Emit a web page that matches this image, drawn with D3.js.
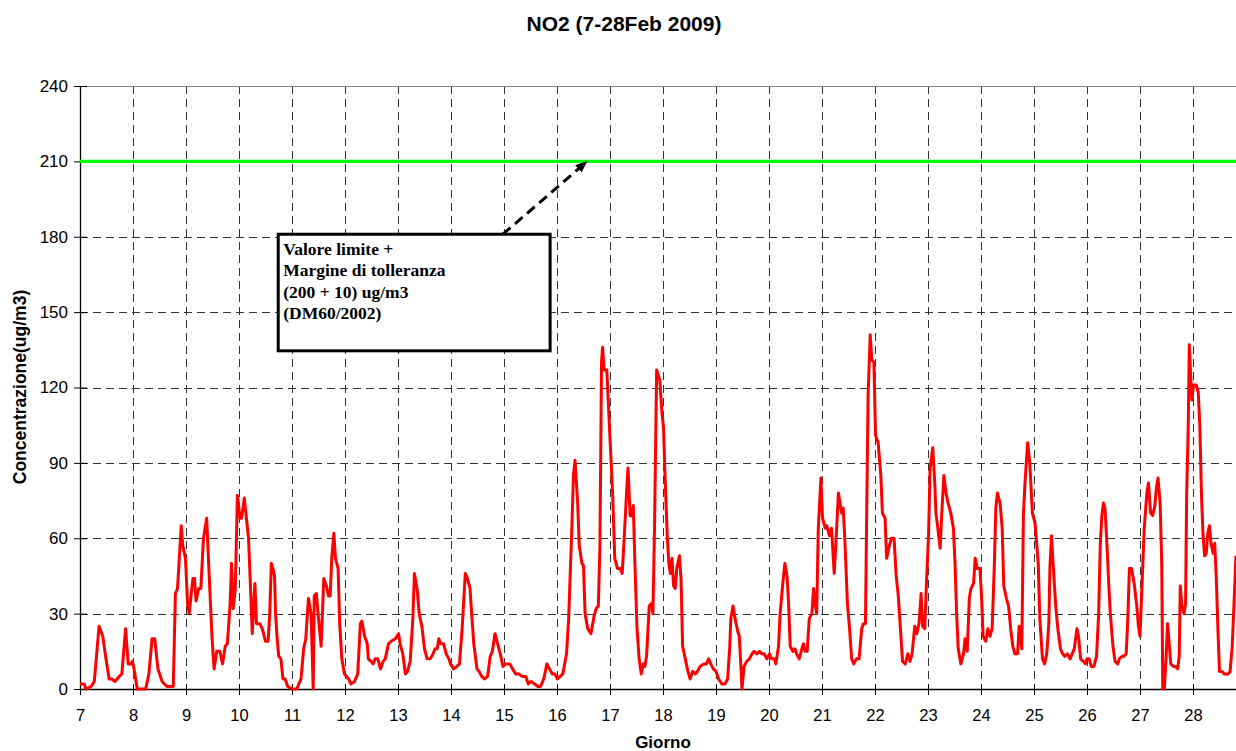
<!DOCTYPE html>
<html>
<head>
<meta charset="utf-8">
<title>NO2 (7-28Feb 2009)</title>
<script src="https://cdn.jsdelivr.net/npm/d3@7"></script>
<style>
  html, body { margin: 0; padding: 0; background: #fff; }
  svg { display: block; font-family: "Liberation Sans", Arial, sans-serif; }
</style>
</head>
<body>
<div id="chart"></div>
<script>
// NO2 hourly concentration, 7-28 Feb 2009
const giorno = [
  7.00, 7.08, 7.11, 7.21, 7.27, 7.36, 7.43, 7.49, 7.55, 7.60, 7.66, 7.74, 7.79, 7.86, 7.91, 7.96, 7.99,
  8.02, 8.08, 8.14, 8.24, 8.30, 8.36, 8.41, 8.47, 8.55, 8.64, 8.76, 8.80, 8.84, 8.91, 8.94, 8.99,
  9.03, 9.06, 9.13, 9.16, 9.19, 9.24, 9.28, 9.33, 9.39, 9.44, 9.49, 9.53, 9.58, 9.64, 9.69, 9.74, 9.78, 9.83, 9.86, 9.89, 9.93, 9.97,
  10.02, 10.05, 10.10, 10.14, 10.18, 10.22, 10.25, 10.30, 10.33, 10.39, 10.44, 10.50, 10.55, 10.58, 10.61, 10.65, 10.67, 10.69, 10.72, 10.75, 10.79, 10.83, 10.87, 10.92,
  11.00, 11.09, 11.17, 11.22, 11.26, 11.31, 11.36, 11.40, 11.42, 11.46, 11.50, 11.55, 11.60, 11.65, 11.69, 11.72, 11.75, 11.79, 11.82, 11.87, 11.90, 11.94, 11.99,
  12.07, 12.11, 12.18, 12.24, 12.29, 12.32, 12.37, 12.42, 12.44, 12.49, 12.53, 12.57, 12.62, 12.67, 12.72, 12.76, 12.82, 12.87, 12.95,
  13.01, 13.04, 13.09, 13.14, 13.18, 13.23, 13.28, 13.31, 13.36, 13.40, 13.45, 13.50, 13.55, 13.61, 13.66, 13.70, 13.74, 13.77, 13.81, 13.86, 13.91, 13.96, 13.99,
  14.05, 14.11, 14.16, 14.21, 14.27, 14.31, 14.36, 14.38, 14.43, 14.49, 14.53, 14.58, 14.63, 14.69, 14.74, 14.78, 14.83, 14.88, 14.93, 14.98,
  15.03, 15.11, 15.16, 15.22, 15.28, 15.34, 15.41, 15.46, 15.51, 15.58, 15.64, 15.69, 15.75, 15.81, 15.86, 15.91, 15.96,
  16.01, 16.06, 16.11, 16.18, 16.22, 16.28, 16.31, 16.34, 16.39, 16.42, 16.47, 16.50, 16.53, 16.58, 16.64, 16.70, 16.74, 16.78, 16.81, 16.84, 16.86, 16.89, 16.94, 16.99,
  17.05, 17.09, 17.14, 17.19, 17.23, 17.26, 17.31, 17.34, 17.38, 17.41, 17.44, 17.47, 17.51, 17.55, 17.59, 17.63, 17.66, 17.69, 17.74, 17.78, 17.81, 17.84, 17.88, 17.94, 17.98,
  18.01, 18.04, 18.08, 18.11, 18.14, 18.17, 18.20, 18.23, 18.26, 18.31, 18.34, 18.37, 18.42, 18.46, 18.51, 18.56, 18.61, 18.65, 18.70, 18.77, 18.82, 18.86, 18.90, 18.95,
  19.00, 19.05, 19.11, 19.17, 19.22, 19.26, 19.28, 19.32, 19.36, 19.41, 19.44, 19.47, 19.49, 19.53, 19.58, 19.63, 19.68, 19.72, 19.77, 19.82, 19.86, 19.91, 19.96,
  20.01, 20.05, 20.10, 20.13, 20.18, 20.21, 20.26, 20.30, 20.34, 20.37, 20.40, 20.45, 20.49, 20.52, 20.57, 20.62, 20.65, 20.68, 20.72, 20.76, 20.81, 20.84, 20.87, 20.90, 20.93, 20.98,
  21.01, 21.06, 21.09, 21.14, 21.18, 21.23, 21.26, 21.31, 21.34, 21.37, 21.40, 21.43, 21.48, 21.52, 21.56, 21.60, 21.65, 21.70, 21.75, 21.78, 21.82, 21.84, 21.87, 21.91, 21.94, 21.98,
  22.01, 22.06, 22.11, 22.14, 22.19, 22.22, 22.27, 22.31, 22.36, 22.40, 22.44, 22.48, 22.52, 22.57, 22.62, 22.66, 22.70, 22.75, 22.79, 22.83, 22.87, 22.90, 22.94, 22.97,
  23.01, 23.04, 23.09, 23.13, 23.15, 23.18, 23.23, 23.26, 23.30, 23.34, 23.38, 23.43, 23.48, 23.51, 23.54, 23.57, 23.62, 23.67, 23.70, 23.74, 23.78, 23.81, 23.86, 23.89, 23.93, 23.98,
  24.01, 24.04, 24.09, 24.13, 24.17, 24.21, 24.25, 24.28, 24.31, 24.36, 24.40, 24.43, 24.48, 24.52, 24.56, 24.60, 24.64, 24.69, 24.72, 24.77, 24.80, 24.83, 24.88, 24.92, 24.97,
  25.02, 25.08, 25.11, 25.16, 25.20, 25.24, 25.28, 25.30, 25.33, 25.36, 25.41, 25.45, 25.50, 25.54, 25.58, 25.63, 25.68, 25.72, 25.76, 25.81, 25.84, 25.88, 25.93, 25.97,
  26.00, 26.04, 26.08, 26.13, 26.18, 26.22, 26.25, 26.28, 26.31, 26.34, 26.38, 26.41, 26.44, 26.49, 26.53, 26.58, 26.61, 26.66, 26.70, 26.74, 26.77, 26.80, 26.84, 26.89, 26.94, 26.97,
  27.00, 27.03, 27.08, 27.13, 27.16, 27.20, 27.24, 27.28, 27.31, 27.34, 27.38, 27.41, 27.43, 27.46, 27.50, 27.52, 27.54, 27.58, 27.63, 27.67, 27.71, 27.74, 27.76, 27.79, 27.83, 27.86, 27.88, 27.91, 27.93, 27.96, 27.98,
  28.01, 28.06, 28.10, 28.13, 28.16, 28.19, 28.22, 28.25, 28.28, 28.31, 28.34, 28.38, 28.41, 28.44, 28.47, 28.50, 28.55, 28.59, 28.66, 28.70, 28.74, 28.78, 28.81
];

const no2 = [
  2, 2, 0, 1, 3, 25, 21, 12, 4, 4, 3, 5, 6, 24, 10, 10, 11,
  8, 0, 0, 0, 6, 20, 20, 8, 3, 1, 1, 38, 40, 65, 57, 52,
  34, 30, 44, 44, 35, 40, 40, 60, 68, 44, 21, 8, 15, 15, 10, 17, 18, 33, 50, 32, 40, 77,
  68, 68, 76, 68, 60, 39, 22, 42, 26, 26, 24, 19, 19, 30, 50, 47, 45, 30, 20, 13, 12, 4, 4, 1,
  0, 0, 4, 16, 20, 36, 30, 0, 37, 38, 28, 17, 44, 41, 37, 37, 52, 62, 52, 48, 26, 12, 6,
  4, 2, 3, 6, 26, 27, 21, 18, 12, 11, 10, 12, 12, 8, 11, 12, 18, 19, 20,
  22, 18, 14, 6, 7, 11, 28, 46, 40, 30, 25, 16, 12, 12, 14, 16, 16, 20, 18, 18, 14, 12, 10,
  8, 9, 10, 24, 46, 44, 40, 33, 18, 8, 7, 5, 4, 5, 13, 15, 22, 18, 14, 9,
  10, 10, 8, 6, 6, 5, 5, 2, 3, 2, 1, 1, 4, 10, 8, 6, 6,
  4, 5, 6, 14, 28, 64, 85, 91, 74, 57, 50, 49, 30, 24, 22, 29, 32, 33, 57, 130, 136, 127, 127, 104,
  78, 52, 48, 48, 46, 57, 77, 88, 69, 69, 73, 50, 24, 12, 6, 10, 9, 13, 33, 34, 30, 64, 127, 123, 110,
  104, 84, 61, 50, 46, 52, 41, 40, 48, 53, 44, 17, 12, 8, 4, 7, 6, 7, 9, 10, 10, 12, 10, 8,
  7, 4, 2, 2, 4, 17, 28, 33, 28, 23, 21, 9, 0, 9, 11, 12, 14, 15, 14, 15, 14, 14, 12,
  14, 12, 12, 10, 17, 30, 42, 50, 45, 34, 17, 15, 16, 14, 12, 16, 18, 15, 15, 28, 30, 40, 34, 30, 64, 84,
  68, 64, 65, 61, 64, 46, 57, 78, 74, 70, 72, 60, 34, 24, 12, 10, 12, 12, 24, 26, 26, 64, 117, 141, 131, 130,
  101, 98, 85, 70, 68, 52, 57, 60, 60, 45, 37, 24, 11, 10, 14, 11, 14, 25, 22, 26, 38, 25, 24, 42,
  61, 88, 96, 81, 70, 65, 56, 70, 85, 78, 74, 70, 64, 50, 30, 16, 10, 14, 20, 15, 36, 40, 42, 52, 48, 48,
  37, 21, 19, 24, 21, 24, 48, 72, 78, 74, 64, 41, 36, 33, 24, 17, 14, 14, 25, 16, 69, 82, 98, 90, 70,
  66, 50, 28, 12, 10, 14, 26, 48, 61, 50, 33, 24, 16, 14, 13, 14, 12, 14, 16, 24, 21, 12, 11, 10,
  12, 12, 9, 9, 13, 30, 57, 69, 74, 72, 56, 42, 30, 17, 11, 10, 12, 13, 13, 14, 28, 48, 48, 42, 33, 25,
  21, 37, 64, 78, 82, 70, 69, 73, 80, 84, 74, 50, 0, 0, 16, 26, 21, 10, 9, 9, 8, 13, 41, 33, 30, 34, 77, 104, 137, 123, 115,
  121, 121, 118, 104, 77, 61, 53, 54, 62, 65, 58, 54, 58, 44, 24, 7, 7, 6, 6, 7, 17, 37, 53
];

// Limit value + tolerance margin (DM60/2002)
const limite = 210;

// Axis ticks
const giorniTick = d3.range(7, 29);          // 7 .. 28
const yTick = [0, 30, 60, 90, 120, 150, 180, 210, 240];

// Annotation text
const notaRighe = [
  'Valore limite +',
  'Margine di tolleranza',
  '(200 + 10) ug/m3',
  '(DM60/2002)'
];

const titolo = 'NO2 (7-28Feb 2009)';
const titoloY = 'Concentrazione(ug/m3)';
const titoloX = 'Giorno';

// Basic dimensions
const width = 1236;
const height = 751;
const plot = { left: 80, top: 86, right: 1246, bottom: 689 };

const svg = d3.select('#chart')
  .append('svg')
  .attr('width', width)
  .attr('height', height);

const x = d3.scaleLinear().domain([7, 29]).range([plot.left, plot.right]);
const y = d3.scaleLinear().domain([0, 240]).range([plot.bottom, plot.top]);

// Grid lines (dashed)
svg.append('g')
  .selectAll('line')
  .data(d3.range(8, 30))
  .enter()
  .append('line')
  .attr('x1', d => x(d) + 0.5)
  .attr('x2', d => x(d) + 0.5)
  .attr('y1', plot.top)
  .attr('y2', plot.bottom)
  .attr('stroke', '#333')
  .attr('stroke-width', 1)
  .attr('stroke-dasharray', '8,5');

svg.append('g')
  .selectAll('line')
  .data(yTick.filter(v => v > 0 && v < 240))
  .enter()
  .append('line')
  .attr('x1', plot.left)
  .attr('x2', plot.right)
  .attr('y1', d => Math.round(y(d)) + 0.5)
  .attr('y2', d => Math.round(y(d)) + 0.5)
  .attr('stroke', '#333')
  .attr('stroke-width', 1)
  .attr('stroke-dasharray', '8,5');

// Top border of plot area
svg.append('line')
  .attr('x1', plot.left)
  .attr('x2', plot.right)
  .attr('y1', Math.round(y(240)) + 0.5)
  .attr('y2', Math.round(y(240)) + 0.5)
  .attr('stroke', '#888')
  .attr('stroke-width', 1.2);

// Axes (ticks cross the axis line, as in the original)
const yAxis = d3.axisLeft(y).tickValues(yTick).tickSize(6).tickSizeOuter(0).tickPadding(6);
const gy = svg.append('g')
  .attr('transform', `translate(${plot.left},0)`)
  .call(yAxis);
gy.selectAll('.tick line').attr('x1', 7);

const xAxis = d3.axisBottom(x).tickValues(giorniTick).tickSize(6).tickSizeOuter(0).tickPadding(14);
const gx = svg.append('g')
  .attr('transform', `translate(0,${plot.bottom})`)
  .call(xAxis);
gx.selectAll('.tick line').attr('y1', -5);

[gx, gy].forEach(g => {
  g.selectAll('path.domain').attr('stroke', '#000').attr('stroke-width', 1.3);
  g.selectAll('.tick line').attr('stroke', '#000');
  g.selectAll('.tick text')
    .attr('font-family', '"Liberation Sans", Arial, sans-serif')
    .attr('fill', '#000');
});
gy.selectAll('.tick text').attr('font-size', 17);
gx.selectAll('.tick text').attr('font-size', 16.5);

// Limit line
svg.append('line')
  .attr('x1', x(7))
  .attr('x2', x(29))
  .attr('y1', y(limite))
  .attr('y2', y(limite))
  .attr('stroke', '#00ff00')
  .attr('stroke-width', 3.2);

// NO2 series
const serie = giorno.map((g, i) => ({ g, v: no2[i] }));
const linea = d3.line()
  .x(d => x(d.g))
  .y(d => y(d.v));

svg.append('path')
  .datum(serie)
  .attr('fill', 'none')
  .attr('stroke', '#ff0000')
  .attr('stroke-width', 3)
  .attr('stroke-linejoin', 'round')
  .attr('d', linea);

// Annotation arrow
svg.append('defs')
  .append('marker')
  .attr('id', 'freccia')
  .attr('markerUnits', 'userSpaceOnUse')
  .attr('viewBox', '0 0 10 10')
  .attr('refX', 8)
  .attr('refY', 5)
  .attr('markerWidth', 12)
  .attr('markerHeight', 12)
  .attr('orient', 'auto')
  .append('path')
  .attr('d', 'M0,1 L10,5 L0,9 Z')
  .attr('fill', '#000');

svg.append('line')
  .attr('x1', x(14.98))
  .attr('y1', y(181))
  .attr('x2', x(16.54))
  .attr('y2', y(209.5))
  .attr('stroke', '#000')
  .attr('stroke-width', 3)
  .attr('stroke-dasharray', '10,6')
  .attr('marker-end', 'url(#freccia)');

// Annotation box
const boxX = x(10.74);
const boxY = y(181);
svg.append('rect')
  .attr('x', boxX)
  .attr('y', boxY)
  .attr('width', x(15.87) - boxX)
  .attr('height', y(134.6) - boxY)
  .attr('fill', '#fff')
  .attr('stroke', '#000')
  .attr('stroke-width', 3);

svg.append('g')
  .selectAll('text')
  .data(notaRighe)
  .enter()
  .append('text')
  .attr('x', boxX + 5)
  .attr('y', (d, i) => boxY + 21 + i * 21.2)
  .attr('font-family', '"Liberation Serif", "Times New Roman", serif')
  .attr('font-weight', 'bold')
  .attr('font-size', 17.5)
  .attr('fill', '#000')
  .text(d => d);

// Titles
svg.append('text')
  .attr('x', 624)
  .attr('y', 31)
  .attr('text-anchor', 'middle')
  .attr('font-weight', 'bold')
  .attr('font-size', 21)
  .text(titolo);

svg.append('text')
  .attr('transform', `translate(26,387) rotate(-90)`)
  .attr('text-anchor', 'middle')
  .attr('font-weight', 'bold')
  .attr('font-size', 17.5)
  .text(titoloY);

svg.append('text')
  .attr('x', (plot.left + plot.right) / 2)
  .attr('y', 748)
  .attr('text-anchor', 'middle')
  .attr('font-weight', 'bold')
  .attr('font-size', 17)
  .text(titoloX);
</script>
</body>
</html>
